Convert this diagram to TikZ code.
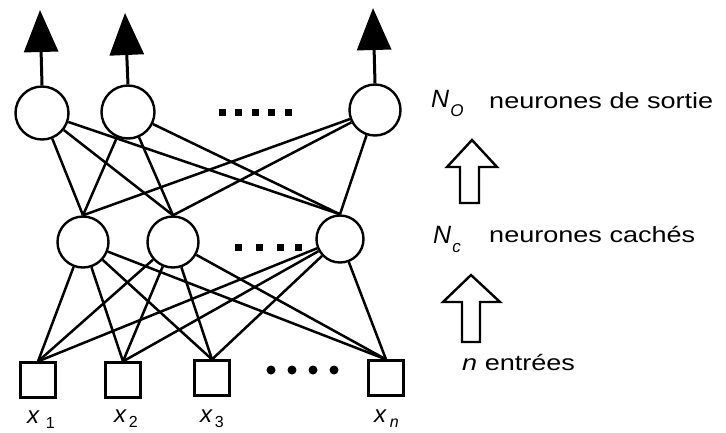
\documentclass[tikz,border=0pt]{standalone}
\usepackage{fontspec}
\setmainfont{Liberation Sans}
\usetikzlibrary{arrows.meta}
\begin{document}
\begin{tikzpicture}[x=1pt,y=-1pt,
  neuron/.style={circle,draw,line width=2.4pt,minimum size=#1,inner sep=0pt},
  neuron/.default=51pt,
  inbox/.style={rectangle,draw,line width=2.2pt,minimum size=35pt,inner sep=0pt},
  link/.style={line width=2.5pt},
  outarrow/.style={line width=3pt,-{Triangle[length=42pt,width=34pt]}},
  lab/.style={font=\fontsize{24}{28}\selectfont,inner sep=0pt,anchor=base west},
  rlab/.style={font=\fontsize{22}{26}\selectfont,inner sep=0pt,anchor=west},
  hollow/.style={draw,line width=2.4pt,line join=miter,fill=white}]
\useasboundingbox (0,0) rectangle (726,432);
% output layer
\node[neuron=53pt] (o1) at (42,113) {};
\node[neuron=53pt] (o2) at (128,112) {};
\node[neuron=51pt] (o3) at (375,110) {};
% hidden layer
\node[neuron] (h1) at (83,242) {};
\node[neuron] (h2) at (173,242) {};
\node[neuron=47pt] (h3) at (340,239) {};
% inputs
\node[inbox] (x1) at (38,380) {};
\node[inbox] (x2) at (123,380) {};
\node[inbox] (x3) at (212,378) {};
\node[inbox] (xn) at (386,378) {};
% output arrows
\coordinate (t1) at (40,10);
\coordinate (t2) at (125,13);
\coordinate (t3) at (373,8);
\draw[outarrow] (o1.north) -- (t1);
\draw[outarrow] (o2.north) -- (t2);
\draw[outarrow] (o3.north) -- (t3);
% hidden -> output
\foreach \o in {o1,o2,o3}{
  \foreach \h in {h1,h2,h3}{
    \draw[link] (\o) -- (\h.north);
  }
}
% input -> hidden
\foreach \x in {x1,x2,x3,xn}{
  \foreach \h in {h1,h2,h3}{
    \draw[link] (\x.north) -- (\h);
  }
}
% dots
\foreach \px in {222,238,255,271,288}{\fill (\px-3.5,109) rectangle (\px+3.5,116);}
\foreach \px in {238,259,280,298}{\fill (\px-3.5,244) rectangle (\px+3.5,251);}
\foreach \px in {271,292,313,334}{\fill (\px,370) circle (4.5pt);}
% input labels
\node[lab] (l1) at (27,423) {\textit{x}\hspace{6pt}\raisebox{-5pt}{\fontsize{16}{18}\selectfont 1}};
\node[lab] (l2) at (114,422) {\textit{x}\hspace{2pt}\raisebox{-5pt}{\fontsize{16}{18}\selectfont 2}};
\node[lab] (l3) at (200,422) {\textit{x}\hspace{2pt}\raisebox{-5pt}{\fontsize{16}{18}\selectfont 3}};
\node[lab] (ln) at (374,422) {\textit{x}\hspace{3pt}\raisebox{-5pt}{\fontsize{16}{18}\selectfont\textit{n}}};
% right labels
\node[rlab] (no) at (431,103) {\fontsize{25}{28}\selectfont\textit{N}\hspace{1pt}\raisebox{-9pt}{\fontsize{17}{19}\selectfont\textit{O}}};
\node[rlab] (so) at (489,101) {\scalebox{1.23}[1]{neurones de sortie}};
\node[rlab] (nc) at (433,239) {\fontsize{25}{28}\selectfont\textit{N}\hspace{1pt}\raisebox{-9pt}{\fontsize{17}{19}\selectfont\textit{c}}};
\node[rlab] (ca) at (489,235) {\scalebox{1.23}[1]{neurones cachés}};
\node[rlab] (en) at (462,363) {\scalebox{1.23}[1]{\textit{n} entrées}};
% hollow arrows
\draw[hollow] (472,140) -- (497,167) -- (479,167) -- (479,203) -- (460,203) -- (460,167) -- (447,167) -- cycle;
\draw[hollow] (471,275) -- (500,302) -- (480,302) -- (480,342) -- (462,342) -- (462,302) -- (443,302) -- cycle;
\end{tikzpicture}
\end{document}
